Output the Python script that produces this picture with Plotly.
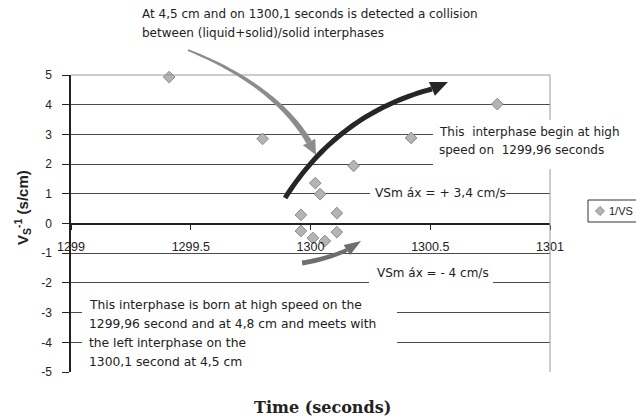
import numpy as np
import plotly.graph_objects as go

# ---- data: inverse interface speed vs. time ----
time_s = [1299.41, 1299.80, 1300.42, 1300.78, 1300.18, 1300.02, 1300.04,
          1299.96, 1300.11, 1299.96, 1300.11, 1300.01, 1300.06]
inv_vs = [4.93, 2.85, 2.88, 4.02, 1.94, 1.36, 0.99,
          0.29, 0.35, -0.25, -0.29, -0.49, -0.59]
series_name = "1/VS"

x_ticks = [1299, 1299.5, 1300, 1300.5, 1301]
y_ticks = [-5, -4, -3, -2, -1, 0, 1, 2, 3, 4, 5]

# ---- figure geometry (pixels) ----
W, H = 636, 419
L, R, T, B = 71, 550, 75, 372
X0, X1 = x_ticks[0], x_ticks[-1]
Y0, Y1 = y_ticks[0], y_ticks[-1]

FONT = "Liberation Sans, Arial, sans-serif"
NOTE_FONT = "DejaVu Sans, Verdana, sans-serif"
INK = "#222222"


def d2px(x, y):
    return (L + (x - X0) / (X1 - X0) * (R - L),
            B - (y - Y0) / (Y1 - Y0) * (B - T))


def px2paper(px, py):
    return ((px - L) / (R - L), (B - py) / (B - T))


def path_from_px(points):
    pts = [px2paper(px, py) for px, py in points]
    return "M " + " L ".join(f"{a:.5f},{b:.5f}" for a, b in pts) + " Z"


def curved_arrow(start, ctrl, end, tip, w0, w1, head_w, color):
    """Tapered quadratic-bezier arrow given in data units, returned as shapes."""
    p0, c, p1, pt = (np.array(d2px(*p)) for p in (start, ctrl, end, tip))
    t = np.linspace(0, 1, 40)[:, None]
    pts = (1 - t) ** 2 * p0 + 2 * (1 - t) * t * c + t ** 2 * p1
    der = 2 * (1 - t) * (c - p0) + 2 * t * (p1 - c)
    der /= np.linalg.norm(der, axis=1, keepdims=True)
    nrm = np.column_stack([-der[:, 1], der[:, 0]])
    half = (w0 + (w1 - w0) * t[:, 0])[:, None] / 2
    left = pts + nrm * half
    right = pts - nrm * half
    body = list(map(tuple, left)) + list(map(tuple, right[::-1]))
    d = pt - p1
    d = d / np.linalg.norm(d)
    n = np.array([-d[1], d[0]])
    head = [tuple(p1 + n * head_w / 2), tuple(pt), tuple(p1 - n * head_w / 2)]
    out = []
    for poly in (body, head):
        out.append(dict(type="path", xref="paper", yref="paper",
                        path=path_from_px(poly), fillcolor=color,
                        line=dict(width=0), layer="above"))
    return out


def white_box(x0, y0, x1, y1):
    a = px2paper(x0, y1)
    b = px2paper(x1, y0)
    return dict(type="rect", xref="paper", yref="paper",
                x0=a[0], y0=a[1], x1=b[0], y1=b[1],
                fillcolor="white", line=dict(width=0), layer="above")


def label(text, px, py, size=12, anchor="left", family=NOTE_FONT, **kw):
    x, y = px2paper(px, py)
    return dict(text=text, x=x, y=y, xref="paper", yref="paper",
                xanchor=anchor, yanchor="middle", showarrow=False,
                font=dict(family=family, size=size, color=INK), **kw)


fig = go.Figure()
fig.add_trace(go.Scatter(
    x=time_s, y=inv_vs, mode="markers", name=series_name,
    marker=dict(symbol="diamond", size=9, color="#b4b4b4",
                line=dict(color="#8a8a8a", width=1)),
    showlegend=False, cliponaxis=False,
))

shapes = []
# plot frame (top and right edges)
shapes.append(dict(type="line", xref="paper", yref="paper", x0=0, x1=1,
                   y0=1, y1=1, line=dict(color="#9a9a9a", width=1),
                   layer="above"))
shapes.append(dict(type="line", xref="paper", yref="paper", x0=1, x1=1,
                   y0=0, y1=1, line=dict(color="#9a9a9a", width=1),
                   layer="above"))
# text backgrounds that break the grid lines
shapes.append(white_box(433, 120, 640, 169))
shapes.append(white_box(370, 184, 506, 204))
shapes.append(white_box(369, 264, 493, 290))
shapes.append(white_box(82, 295, 397, 386))

# arrows (data units)
shapes += curved_arrow((1299.489, 5.84), (1299.852, 4.66), (1299.994, 2.744),
                       (1300.023, 2.31), 2, 6, 14, "#8c8c8c")
shapes += curved_arrow((1299.894, 0.859), (1300.115, 3.687), (1300.507, 4.529),
                       (1300.574, 4.764), 5, 5, 15, "#262626")
shapes += curved_arrow((1299.965, -1.330), (1300.069, -1.195), (1300.152, -0.892),
                       (1300.211, -0.589), 5, 4, 12, "#6e6e6e")

# legend box
lx0, ly0 = px2paper(588, 222)
lx1, ly1 = px2paper(645, 200)
shapes.append(dict(type="rect", xref="paper", yref="paper",
                   x0=lx0, y0=ly0, x1=lx1, y1=ly1, fillcolor="white",
                   line=dict(color="#333333", width=1), layer="above"))
dc = np.array([600, 211])
diamond = [tuple(dc + v) for v in ([0, -4.5], [4.5, 0], [0, 4.5], [-4.5, 0])]
shapes.append(dict(type="path", xref="paper", yref="paper",
                   path=path_from_px(diamond), fillcolor="#b4b4b4",
                   line=dict(color="#8a8a8a", width=1), layer="above"))

annotations = [
    label("At 4,5 cm and on 1300,1 seconds is detected a collision", 140, 14, 12),
    label("between (liquid+solid)/solid interphases", 140, 33, 12),
    label("This  interphase begin at high", 437, 132, 12),
    label("speed on  1299,96 seconds", 437, 150, 12),
    label("VSm áx = + 3,4 cm/s", 373, 193, 12.2),
    label("VSm áx = - 4 cm/s", 375, 273, 12),
    label("This interphase is born at high speed on the", 87, 305, 12.3),
    label("1299,96 second and at 4,8 cm and meets with", 87, 324, 12.3),
    label("the left interphase on the", 87, 343, 12.3),
    label("1300,1 second at 4,5 cm", 87, 362, 12.3),
    label(series_name, 607, 211, 11, family=FONT),
    label("<b>V<sub>S</sub><sup>-1</sup> (s/cm)</b>", 22, 208, 15,
          anchor="center", family=FONT, textangle=-90),
    label("<b>Time (seconds)</b>", 322, 407, 16, anchor="center",
          family="DejaVu Serif, serif"),
]

fig.update_layout(
    width=W, height=H,
    margin=dict(l=L, r=W - R, t=T, b=H - B, autoexpand=False),
    paper_bgcolor="white", plot_bgcolor="white",
    showlegend=False,
    shapes=shapes, annotations=annotations,
    xaxis=dict(range=[X0, X1], tickvals=x_ticks,
               ticktext=[f"{v:g}" for v in x_ticks],
               anchor="free", position=0.5, showgrid=False, zeroline=False,
               showline=True, linecolor=INK, linewidth=2,
               ticks="outside", ticklen=5, tickcolor=INK, tickwidth=1,
               ticklabelstandoff=6,
               tickfont=dict(family=FONT, size=12.5, color=INK)),
    yaxis=dict(range=[Y0, Y1], tickvals=y_ticks,
               ticktext=[f"{v:d}" for v in y_ticks],
               showgrid=True, gridcolor="#4a4a4a", gridwidth=1, zeroline=False,
               showline=True, linecolor=INK, linewidth=1.5,
               ticks="outside", ticklen=7, tickcolor=INK, tickwidth=1,
               ticklabelstandoff=8,
               tickfont=dict(family=FONT, size=12, color=INK)),
)

fig.write_html("out.html")
